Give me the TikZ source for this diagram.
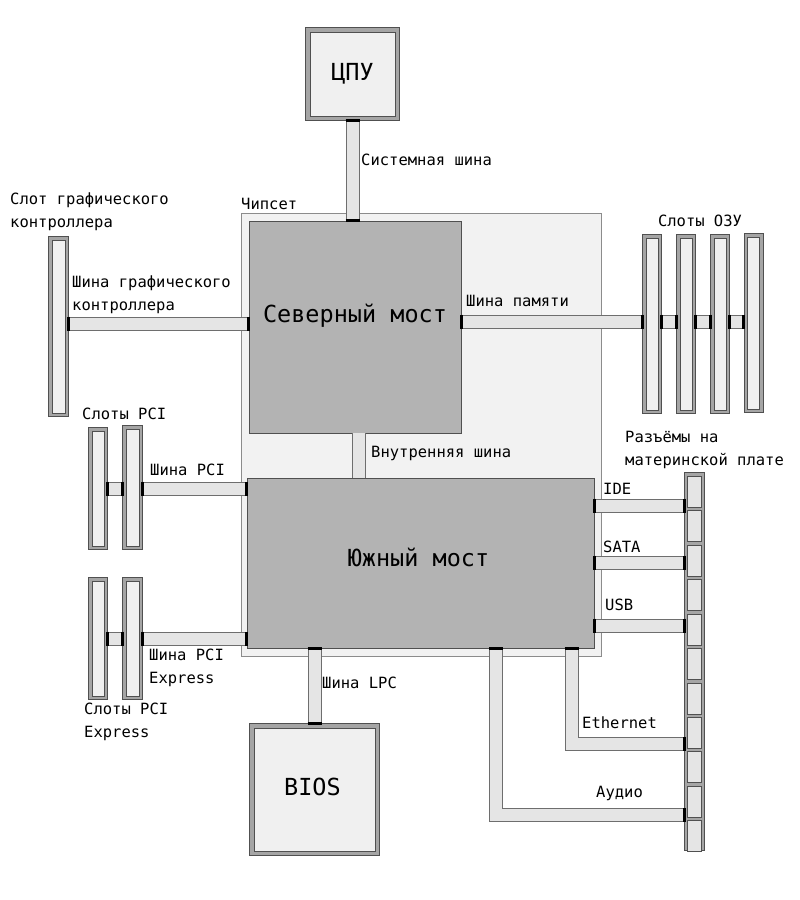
\documentclass[tikz,border=0pt]{standalone}
\usepackage{fontspec}
\setmainfont{DejaVu Sans Mono}
\usetikzlibrary{calc,positioning}
\definecolor{chipfill}{RGB}{242,242,242}
\definecolor{chipline}{RGB}{140,140,140}
\definecolor{bridgefill}{RGB}{179,179,179}
\definecolor{darkline}{RGB}{80,80,80}
\definecolor{busfill}{RGB}{229,229,229}
\definecolor{busline}{RGB}{110,110,110}
\definecolor{framegray}{RGB}{165,165,165}
\definecolor{slotfill}{RGB}{240,240,240}
\newcommand{\vcap}[1]{\draw[buscap] ($#1+(-7,0)$) -- ($#1+(7,0)$);}
\newcommand{\hcap}[1]{\draw[buscap] ($#1+(0,-7)$) -- ($#1+(0,7)$);}

\begin{document}
\begin{tikzpicture}[x=1pt,y=-1pt,
  every node/.style={font=\fontsize{15.5}{23}\selectfont,inner sep=0pt},
  lbl/.style={anchor=west,align=left},
  bigtext/.style={font=\fontsize{23.5}{28}\selectfont},
  chip/.style={draw=chipline,fill=chipfill},
  bridge/.style={draw=darkline,fill=bridgefill,bigtext},
  framed/.style={draw=darkline,fill=framegray,
    path picture={\draw[darkline,fill=slotfill]
      ([shift={(#1,#1)}]path picture bounding box.south west) rectangle
      ([shift={(-#1,-#1)}]path picture bounding box.north east);}},
  chipbox/.style={framed=4.5pt,bigtext},
  slot/.style={framed=3.5pt,minimum width=19pt},
  connstrip/.style={draw=darkline,fill=framegray,minimum width=20pt},
  cell/.style={draw=darkline,fill=busfill,minimum width=14pt,minimum height=31pt},
  bus/.style={draw=busline,double=busfill,double distance=12pt,line width=1pt},
  buscap/.style={black,line width=3pt}]
\useasboundingbox[fill=white] (0,0) rectangle (800,900);

% chipset and main blocks
\node[chip,minimum width=360pt,minimum height=443pt] (chipset) at (421,434.5) {};
\node[lbl] (chipsetlbl) at (241,204) {Чипсет};
\node[chipbox,minimum width=94pt,minimum height=93pt] (cpu) at (352.5,74) {ЦПУ};
\node[bridge,minimum width=212pt,minimum height=212pt] (nb) at (355,327) {};
\node[bigtext] (nbtext) at ($(nb)+(0,-11)$) {Северный мост};
\node[bridge,minimum width=347pt,minimum height=170pt] (sb) at (420.5,563) {};
\node[bigtext] (sbtext) at ($(sb)+(-2,-6)$) {Южный мост};
\node[chipbox,minimum width=130pt,minimum height=132pt] (bios) at (314.5,789.5) {};
\node[bigtext] (biostext) at ($(bios)+(-2,-3)$) {BIOS};

% slots
\node[slot,minimum width=20pt,minimum height=180pt] (gslot) at (58.5,326.5) {};
\foreach \x/\y/\n in {652/324/1,686/324/2,720/324/3,753.5/323/4}
  \node[slot,minimum height=179pt] (ram\n) at (\x,\y) {};
\node[slot,minimum height=122pt] (pci1) at (98,488.5) {};
\node[slot,minimum width=20pt,minimum height=124pt] (pci2) at (132.5,487.5) {};
\node[slot,minimum height=122pt] (pcie1) at (98,638.5) {};
\node[slot,minimum width=20pt,minimum height=122pt] (pcie2) at (132.5,638.5) {};

% motherboard connectors
\node[connstrip,minimum height=378pt] (conn) at (694.5,661.5) {};
\foreach \i in {0,...,10}
  \node[cell] (cell\i) at ($(conn.north)+(0,19.2+34.45*\i)$) {};

% bus levels
\coordinate (gbus) at (0,323.5);
\coordinate (mbus) at (0,321.5);
\coordinate (pbus) at (0,488.5);
\coordinate (ebus) at (0,638.5);
\coordinate (ibus) at (358.5,0);
\coordinate (ide) at (0,505.5);
\coordinate (sata) at (0,562.5);
\coordinate (usb) at (0,625.5);
\coordinate (eth) at (571.5,743.5);
\coordinate (aud) at (496,815);

% buses
\draw[bus] (cpu.south) -- (cpu.south |- nb.north);
\vcap{(cpu.south)} \vcap{(cpu.south |- nb.north)}
\draw[bus] (ibus |- nb.south) -- (ibus |- sb.north);
\draw[bus] (gslot.east |- gbus) -- (nb.west |- gbus);
\hcap{(gslot.east |- gbus)} \hcap{(nb.west |- gbus)}
\draw[bus] (nb.east |- mbus) -- (ram1.west |- mbus);
\hcap{(nb.east |- mbus)} \hcap{(ram1.west |- mbus)}
\foreach \a/\b in {1/2,2/3,3/4} {
  \draw[bus] (ram\a.east |- mbus) -- (ram\b.west |- mbus);
  \hcap{(ram\a.east |- mbus)} \hcap{(ram\b.west |- mbus)}
}
\draw[bus] (pci2.east |- pbus) -- (sb.west |- pbus);
\hcap{(pci2.east |- pbus)} \hcap{(sb.west |- pbus)}
\draw[bus] (pci1.east |- pbus) -- (pci2.west |- pbus);
\hcap{(pci1.east |- pbus)} \hcap{(pci2.west |- pbus)}
\draw[bus] (pcie2.east |- ebus) -- (sb.west |- ebus);
\hcap{(pcie2.east |- ebus)} \hcap{(sb.west |- ebus)}
\draw[bus] (pcie1.east |- ebus) -- (pcie2.west |- ebus);
\hcap{(pcie1.east |- ebus)} \hcap{(pcie2.west |- ebus)}
\foreach \c in {ide,sata,usb} {
  \draw[bus] (sb.east |- \c) -- (conn.west |- \c);
  \hcap{(sb.east |- \c)} \hcap{(conn.west |- \c)}
}
\foreach \c in {eth,aud} {
  \draw[bus] (sb.south -| \c) -- (\c) -- (conn.west |- \c);
  \vcap{(sb.south -| \c)} \hcap{(conn.west |- \c)}
}
\draw[bus] (bios.north |- sb.south) -- (bios.north);
\vcap{(bios.north |- sb.south)} \vcap{(bios.north)}

% labels
\node[lbl] (fsblbl) at (361,160) {Системная шина};
\node[lbl] (gslotlbl) at (10,211.5) {Слот графического\\контроллера};
\node[lbl] (gbuslbl) at (72,294.5) {Шина графического\\контроллера};
\node[lbl] (mbuslbl) at (466,301) {Шина памяти};
\node (ramlbl) at (700,221) {Слоты ОЗУ};
\node[lbl] (pcilbl) at (82,414) {Слоты PCI};
\node[lbl] (pbuslbl) at (150,470) {Шина PCI};
\node[lbl] (ibuslbl) at (371,453) {Внутренняя шина};
\node[lbl] (connlbl) at (625,449.5) {Разъёмы на\\материнской плате};
\node[lbl] (idelbl) at (603,489) {IDE};
\node[lbl] (satalbl) at (603,547) {SATA};
\node[lbl] (usblbl) at (605,605) {USB};
\node[lbl] (ebuslbl) at (149,667.5) {Шина PCI\\Express};
\node[lbl] (pcielbl) at (84,721.5) {Слоты PCI\\Express};
\node[lbl] (lpclbl) at (322,683) {Шина LPC};
\node[lbl] (ethlbl) at (582,723) {Ethernet};
\node[lbl] (audlbl) at (596,793) {Аудио};
\end{tikzpicture}
\end{document}
